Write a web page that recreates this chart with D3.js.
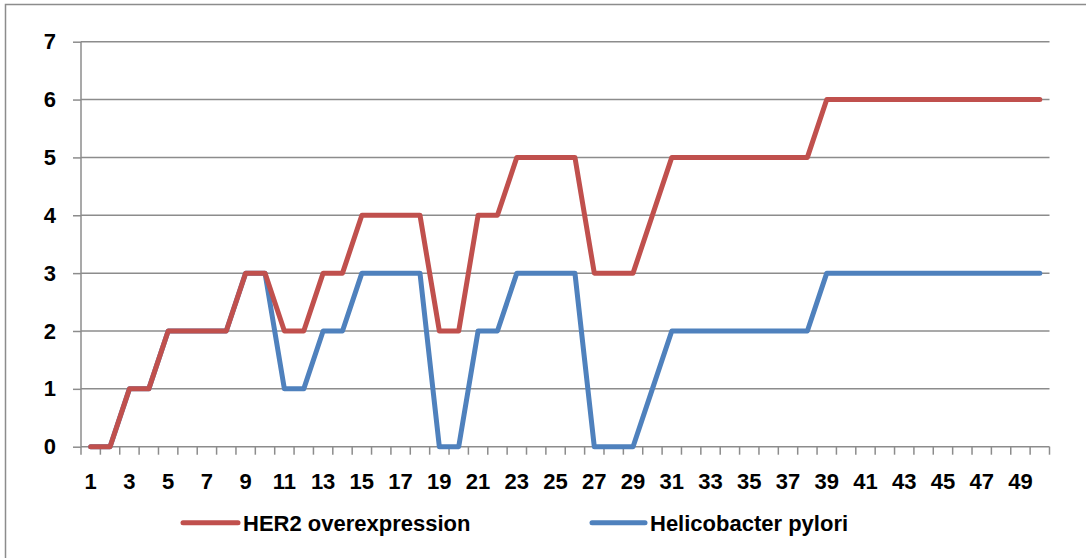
<!DOCTYPE html>
<html><head><meta charset="utf-8">
<script src="https://cdn.jsdelivr.net/npm/d3@7"></script>
<style>body{margin:0;background:#fff;}svg{display:block;}</style>
</head><body>
<svg id="c" width="1086" height="558"></svg>
<script>
const categories = d3.range(1, 51);
const her2 = [0,0,1,1,2,2,2,2,3,3,2,2,3,3,4,4,4,4,2,2,4,4,5,5,5,5,3,3,3,4,5,5,5,5,5,5,5,5,6,6,6,6,6,6,6,6,6,6,6,6];
const hp   = [0,0,1,1,2,2,2,2,3,3,1,1,2,2,3,3,3,3,0,0,2,2,3,3,3,3,0,0,0,1,2,2,2,2,2,2,2,2,3,3,3,3,3,3,3,3,3,3,3,3];
const yTicks = [0,1,2,3,4,5,6,7];
const seriesNames = ["HER2 overexpression", "Helicobacter pylori"];
const colors = ["#C0504D", "#4F81BD"];

(function(){
const svg = d3.select("#c");
const font = "'Liberation Sans', Arial, sans-serif";
svg.append("rect").attr("x",5.5).attr("y",4.5).attr("width",1200).attr("height",600)
  .attr("fill","none").attr("stroke","#8c8c8c").attr("stroke-width",1.5);

const pLeft = 81, pRight = 1049.5, pTop = 41.7, pBottom = 446.7;
const x = d3.scaleBand().domain(categories).range([pLeft, pRight]);
const y = d3.scaleLinear().domain([0,7]).range([pBottom, pTop]);
const grid = "#8c8c8c";

// gridlines
svg.append("g").selectAll("line").data(yTicks.filter(d=>d>0)).join("line")
  .attr("x1", pLeft).attr("x2", pRight).attr("y1", d=>y(d)).attr("y2", d=>y(d))
  .attr("stroke", grid).attr("stroke-width", 1.5);

// y axis
const yAxis = svg.append("g").attr("transform", `translate(${pLeft},0)`)
  .call(d3.axisLeft(y).tickValues(yTicks).tickSize(8).tickPadding(17).tickFormat(d3.format("d")));
yAxis.select(".domain").attr("stroke", grid).attr("stroke-width",1.5).attr("d", `M0,${pBottom}V${pTop}`);
yAxis.selectAll(".tick line").attr("stroke", grid).attr("stroke-width",1.5);
yAxis.selectAll("text").attr("font-family", font).attr("font-weight","bold").attr("font-size","22px").attr("fill","#000");

// x axis
const xg = svg.append("g").attr("transform", `translate(0,${pBottom})`);
xg.append("line").attr("x1", pLeft).attr("x2", pRight).attr("stroke", grid).attr("stroke-width",1.5);
const bounds = categories.map(c => x(c)).concat([pRight]);
xg.selectAll("line.t").data(bounds).join("line").attr("class","t")
  .attr("x1", d=>d).attr("x2", d=>d).attr("y1", 0).attr("y2", 8)
  .attr("stroke", grid).attr("stroke-width",1.5);
xg.selectAll("text").data(categories.filter(c => c % 2 === 1)).join("text")
  .attr("x", d => x(d) + x.bandwidth()/2).attr("y", 42.5)
  .attr("text-anchor","middle").attr("font-family", font).attr("font-weight","bold")
  .attr("font-size","22px").attr("fill","#000").text(d => d);

// lines
const line = d3.line().x((d,i) => x(categories[i]) + x.bandwidth()/2).y(d => y(d));
[[hp,colors[1]],[her2,colors[0]]].forEach(([data,col]) => {
  svg.append("path").datum(data).attr("d", line).attr("fill","none")
    .attr("stroke", col).attr("stroke-width", 5).attr("stroke-linejoin","round").attr("stroke-linecap","round");
});

// legend
const legX = [183, 592];
const legT = [243, 650];
seriesNames.forEach((name, i) => {
  const g = svg.append("g");
  g.append("line").attr("x1", legX[i]).attr("x2", legT[i] - 5).attr("y1", 522.7).attr("y2", 522.7)
    .attr("stroke", colors[i]).attr("stroke-width", 5).attr("stroke-linecap","round");
  g.append("text").attr("x", legT[i]).attr("y", 530.7).attr("font-family", font)
    .attr("font-weight","bold").attr("font-size","22px").attr("fill","#000").text(name);
});
})();
</script>
</body></html>
